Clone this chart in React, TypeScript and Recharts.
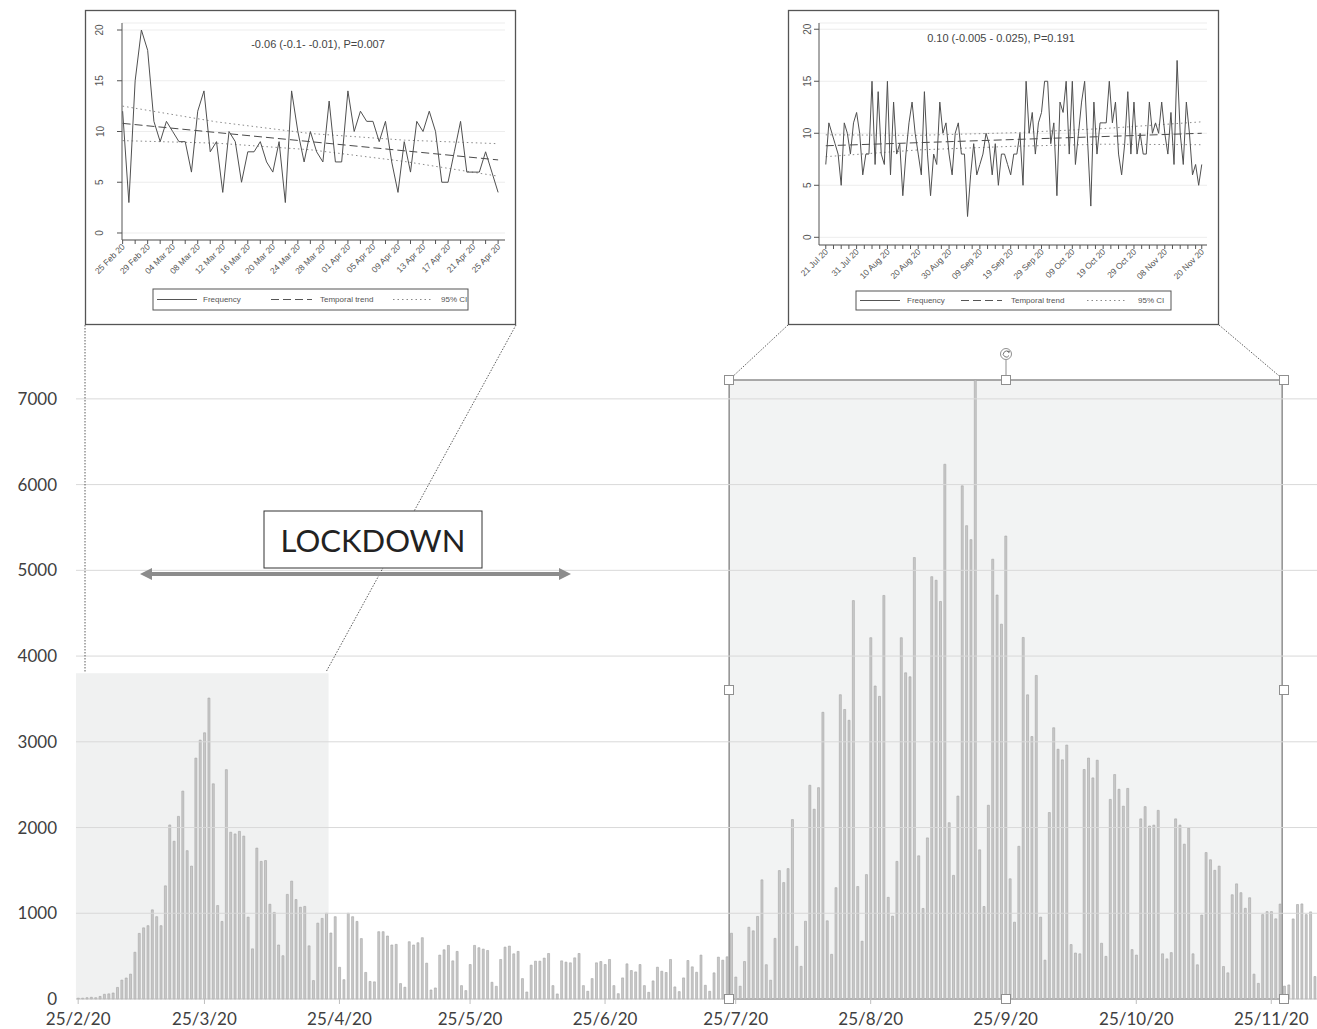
import React from 'react';
import { BarChart, Bar, XAxis, YAxis, CartesianGrid, ReferenceArea, ReferenceLine, LineChart, Line } from 'recharts';

// daily cases from 25/2/20, one value per day
const dailyCases: number[] = [
  10, 10, 15, 20, 15, 30, 55, 60, 70, 135,
  220, 245, 290, 545, 765, 830, 855, 1040, 960, 855,
  1320, 2030, 1840, 2130, 2425, 1730, 1550, 2810, 3020, 3105,
  3510, 2510, 1090, 905, 2675, 1945, 1925, 1955, 1900, 955,
  585, 1760, 1605, 1615, 1105, 1010, 630, 505, 1220, 1375,
  1160, 1070, 1080, 620, 215, 885, 940, 1000, 770, 960,
  370, 225, 1000, 960, 905, 705, 310, 205, 200, 785,
  785, 735, 630, 637, 180, 137, 668, 630, 656, 715,
  418, 105, 129, 512, 574, 625, 445, 555, 156, 98,
  402, 625, 598, 582, 566, 195, 148, 461, 605, 617,
  527, 555, 238, 82, 395, 441, 441, 477, 531, 156,
  59, 445, 430, 422, 480, 531, 156, 90, 238, 422,
  437, 402, 461, 156, 62, 246, 410, 332, 316, 402,
  156, 78, 211, 371, 324, 309, 461, 141, 86, 246,
  449, 375, 312, 512, 160, 90, 305, 488, 453, 492,
  767, 256, 149, 437, 837, 795, 963, 1390, 400, 219,
  707, 1498, 1358, 1521, 2093, 614, 381, 907, 2493, 2214,
  2465, 3344, 912, 521, 1298, 3549, 3377, 3251, 4647, 1312,
  674, 1451, 4214, 3651, 3530, 4707, 1186, 967, 1605, 4214,
  3805, 3758, 5149, 1670, 1056, 1879, 4926, 4884, 4637, 6237,
  2056, 1442, 2367, 5986, 5521, 5358, 7220, 1740, 1079, 2260,
  5130, 4712, 4372, 5400, 1402, 896, 1781, 4217, 3548, 3061,
  3774, 955, 453, 2175, 3164, 2913, 2790, 2962, 635, 536,
  527, 2677, 2810, 2579, 2785, 650, 497, 2328, 2618, 2446,
  2249, 2456, 576, 512, 2101, 2244, 2018, 2028, 2200, 527,
  468, 541, 2101, 2028, 1806, 1993, 527, 399, 979, 1708,
  1624, 1501, 1550, 379, 305, 1216, 1343, 1240, 1058, 1181,
  290, 182, 984, 1019, 1019, 935, 1107, 150, 164, 934,
  1102, 1109, 984, 1016, 262,
];

const mainTicks = ['25/2/20', '25/3/20', '25/4/20', '25/5/20', '25/6/20', '25/7/20', '25/8/20', '25/9/20', '25/10/20', '25/11/20'];
const yTicks = [0, 1000, 2000, 3000, 4000, 5000, 6000, 7000];

// inset 1: 25 Feb - 25 Apr
const insetAFreq = [
  12, 3, 15, 20, 18,
  11, 9, 11, 10, 9, 9, 6, 12, 14, 8, 9, 4, 10, 9, 5, 8, 8, 9, 7, 6, 9, 3, 14, 10, 7, 10, 8, 7, 13, 7, 7,
  14, 10, 12, 11, 11, 9, 11, 7, 4, 9, 6, 11, 10, 12, 10, 5, 5, 8, 11, 6, 6, 6, 8, 6, 4,
];
const insetATrendDays = [0, 60];
const insetATrend = [10.8, 7.2];
const insetACiDays = [0, 15, 30, 45, 60];
const insetACiUpper = [12.5, 10.95, 9.8, 9.15, 8.8];
const insetACiLower = [9.1, 8.85, 8.2, 7.05, 5.6];
const insetALabels = ['25 Feb 20', '29 Feb 20', '04 Mar 20', '08 Mar 20', '12 Mar 20', '16 Mar 20', '20 Mar 20', '24 Mar 20',
  '28 Mar 20', '01 Apr 20', '05 Apr 20', '09 Apr 20', '13 Apr 20', '17 Apr 20', '21 Apr 20', '25 Apr 20'];

// inset 2: 21 Jul - 20 Nov
const insetBFreq = [
  7, 11, 10, 9, 8, 5, 11, 10, 8, 11,
  12, 10, 6, 8, 8, 15, 7, 14, 8, 7,
  15, 6, 13, 8, 9, 4, 8, 11, 13, 10,
  8, 6, 14, 8, 4, 8, 7, 13, 10, 11,
  8, 6, 10, 11, 8, 8, 2, 6, 9, 6,
  7, 8, 10, 9, 6, 9, 5, 8, 8, 7,
  6, 8, 8, 10, 5, 15, 10, 12, 8, 11,
  12, 15, 15, 9, 11, 4, 13, 12, 15, 8,
  15, 7, 10, 13, 15, 9, 3, 13, 8, 11,
  11, 11, 15, 11, 13, 8, 6, 9, 14, 8,
  13, 8, 10, 8, 8, 13, 10, 11, 10, 13,
  10, 8, 12, 7, 17, 10, 7, 13, 10, 6,
  7, 5, 7,
];
const insetBTrendDays = [0, 122];
const insetBTrend = [8.8, 10.0];
const insetBCiDays = [0, 30, 61, 90, 122];
const insetBCiUpper = [9.85, 9.8, 10.05, 10.45, 11.1];
const insetBCiLower = [7.75, 8.4, 8.75, 8.95, 8.9];
const insetBLabelDays = [0, 10, 20, 30, 40, 50, 60, 70, 80, 90, 100, 110, 122];
const insetBLabels = ['21 Jul 20', '31 Jul 20', '10 Aug 20', '20 Aug 20', '30 Aug 20', '09 Sep 20', '19 Sep 20',
  '29 Sep 20', '09 Oct 20', '19 Oct 20', '29 Oct 20', '08 Nov 20', '20 Nov 20'];

const START = Date.UTC(2020, 1, 25);
const dateLabel = (i: number): string => {
  const d = new Date(START + i * 86400000);
  return `${d.getUTCDate()}/${d.getUTCMonth() + 1}/20`;
};

const mainData = dailyCases.map((v, i) => ({ date: dateLabel(i), cases: v }));

const buildInset = (freq: number[], tDays: number[], t: number[], cDays: number[], up: number[], lo: number[]) =>
  freq.map((f, d) => {
    const ti = tDays.indexOf(d);
    const ci = cDays.indexOf(d);
    return {
      d,
      f,
      t: ti >= 0 ? t[ti] : null,
      u: ci >= 0 ? up[ci] : null,
      l: ci >= 0 ? lo[ci] : null,
    };
  });

const insetAData = buildInset(insetAFreq, insetATrendDays, insetATrend, insetACiDays, insetACiUpper, insetACiLower);
const insetBData = buildInset(insetBFreq, insetBTrendDays, insetBTrend, insetBCiDays, insetBCiUpper, insetBCiLower);

const insetATicks = insetAFreq.map((_, d) => d).filter((d) => d % 2 === 0);
const insetBTicks = [...Array.from({ length: 49 }, (_, k) => k * 2.5), 122];

const MAIN_FONT = 'Lato, "Open Sans", sans-serif';
const INSET_FONT = '"Liberation Sans", Arial, sans-serif';
const INK = '#555';

const makeXTick = (labelFor: (v: number) => string) => (props: any) => {
  const { x, y, payload } = props;
  const s = labelFor(payload.value);
  if (!s) return <g />;
  return (
    <text x={x + 1} y={y} dy={3} textAnchor="end" transform={`rotate(-45 ${x} ${y})`}
      fontSize={8.5} fill={INK} fontFamily={INSET_FONT}>{s}</text>
  );
};

const makeYTick = (cx: number) => (props: any) => {
  const { y, payload } = props;
  return (
    <text x={cx} y={y} textAnchor="middle" dominantBaseline="central" transform={`rotate(-90 ${cx} ${y})`}
      fontSize={10} fill={INK} fontFamily={INSET_FONT}>{payload.value}</text>
  );
};

const Inset = (p: { data: any[]; domX: [number, number]; domY: [number, number]; ticks: number[]; yW: number;
  xH: number; right: number; yLabelX: number; labelFor: (v: number) => string }) => (
  <LineChart width={431} height={315} data={p.data} margin={{ top: 13, right: p.right, bottom: 0, left: 0 }}>
    <CartesianGrid vertical={false} stroke="#ededed" />
    <XAxis type="number" dataKey="d" domain={p.domX} allowDataOverflow ticks={p.ticks} interval={0}
      height={p.xH} tickSize={4} tickMargin={2} stroke={INK} tick={makeXTick(p.labelFor)} />
    <YAxis type="number" domain={p.domY} allowDataOverflow ticks={[0, 5, 10, 15, 20]} width={p.yW}
      tickSize={5} stroke={INK} tick={makeYTick(p.yLabelX)} />
    <Line dataKey="u" stroke="#8a8a8a" strokeWidth={1} strokeDasharray="1.5 3" dot={false} connectNulls isAnimationActive={false} />
    <Line dataKey="l" stroke="#8a8a8a" strokeWidth={1} strokeDasharray="1.5 3" dot={false} connectNulls isAnimationActive={false} />
    <Line dataKey="t" stroke="#4a4a4a" strokeWidth={1} strokeDasharray="8 4" dot={false} connectNulls isAnimationActive={false} />
    <Line dataKey="f" stroke="#505050" strokeWidth={1} dot={false} isAnimationActive={false} />
  </LineChart>
);

const LegendBox = ({ x, y, w, h, items }: { x: number; y: number; w: number; h: number; items: number[] }) => {
  const cy = y + h / 2;
  const [s1, t1, s2, t2, s3, t3] = items;
  return (
    <g fontFamily={INSET_FONT} fontSize={8} fill={INK}>
      <rect x={x} y={y} width={w} height={h} fill="#fff" stroke={INK} strokeWidth={1} />
      <line x1={s1} x2={s1 + 40} y1={cy} y2={cy} stroke={INK} strokeWidth={1} />
      <text x={t1} y={cy} dominantBaseline="central">Frequency</text>
      <line x1={s2} x2={s2 + 41} y1={cy} y2={cy} stroke={INK} strokeWidth={1} strokeDasharray="8 4" />
      <text x={t2} y={cy} dominantBaseline="central">Temporal trend</text>
      <line x1={s3} x2={s3 + 38} y1={cy} y2={cy} stroke="#8a8a8a" strokeWidth={1} strokeDasharray="1.5 3" />
      <text x={t3} y={cy} dominantBaseline="central">95% CI</text>
    </g>
  );
};

const Handle = ({ x, y }: { x: number; y: number }) => (
  <rect x={x - 4.5} y={y - 4.5} width={9} height={9} fill="#fff" stroke="#8f8f8f" strokeWidth={1} />
);

const App: React.FC = () => {
  const axisTick = { fontSize: 17, fill: '#404040', fontFamily: MAIN_FONT };
  return (
    <div style={{ position: 'absolute', left: 0, top: 0, width: 1317, height: 1029, background: '#fff', overflow: 'hidden' }}>
      <div style={{ position: 'absolute', left: 0, top: 0 }}>
        <BarChart width={1317} height={1029} data={mainData} margin={{ top: 380, right: 0, bottom: 0, left: 16 }} barCategoryGap="30%">
          {yTicks.slice(1).map((v) => (
            <ReferenceLine key={v} y={v} stroke="#d9d9d9" strokeWidth={1} />
          ))}
          <ReferenceArea x1={dateLabel(0)} x2={dateLabel(57)} y1={0} y2={3800} fill="#e4e6e6" fillOpacity={0.55} stroke="none" />
          <ReferenceArea x1={dateLabel(150)} x2={dateLabel(276)} y1={0} y2={7220} fill="#e6e8e8" fillOpacity={0.5}
            stroke="#8f8f8f" strokeWidth={1.5} />
          <XAxis dataKey="date" ticks={mainTicks} interval={0} height={30} tickSize={5} tickMargin={9}
            axisLine={{ stroke: '#bfbfbf' }} tickLine={{ stroke: '#bfbfbf' }} tick={axisTick} />
          <YAxis domain={[0, 7220]} ticks={yTicks} interval={0} width={60} axisLine={false} tickLine={false}
            tickMargin={13} tick={axisTick} />
          <Bar dataKey="cases" fill="#c9c9c9" stroke="#a4a4a4" strokeWidth={0.6} isAnimationActive={false} />
        </BarChart>
      </div>

      <svg width={1317} height={1029} style={{ position: 'absolute', left: 0, top: 0, pointerEvents: 'none' }}>
        <g stroke="#333" strokeWidth={0.8} strokeDasharray="1.5 1.5" fill="none">
          <line x1={85} y1={325} x2={85} y2={672} />
          <line x1={516} y1={325} x2={326} y2={672} />
          <line x1={788} y1={325} x2={729} y2={380} />
          <line x1={1219} y1={325} x2={1284} y2={380} />
        </g>
        <g stroke="#8c8c8c" fill="#8c8c8c">
          <line x1={150} y1={574} x2={561} y2={574} strokeWidth={4} />
          <polygon points="140,574 152,568 152,580" stroke="none" />
          <polygon points="571,574 559,568 559,580" stroke="none" />
        </g>
        <rect x={264} y={511} width={218} height={57} fill="#fff" stroke="#333" strokeWidth={1} />
        <text x={373} y={540} textAnchor="middle" dominantBaseline="central" fontSize={31} fill="#222" fontFamily={MAIN_FONT}>LOCKDOWN</text>
        <g>
          {[[729, 380], [1006, 380], [1284, 380], [729, 690], [1284, 690], [729, 999], [1006, 999], [1284, 999]].map(([x, y]) => (
            <Handle key={`${x}-${y}`} x={x} y={y} />
          ))}
          <line x1={1006} y1={360} x2={1006} y2={375} stroke="#8f8f8f" strokeWidth={1} />
          <circle cx={1006} cy={354} r={5.5} fill="#fff" stroke="#8f8f8f" strokeWidth={1} />
          <path d="M 1008.5 352 A 3 3 0 1 0 1009 355.5" fill="none" stroke="#777" strokeWidth={1} />
          <polygon points="1007,350.5 1010,351 1009,353.5" fill="#777" />
        </g>
      </svg>

      <div style={{ position: 'absolute', left: 85, top: 10, width: 431, height: 315, background: '#fff' }}>
        <Inset data={insetAData} domX={[-0.1, 61.1]} domY={[-0.69, 20.69]} ticks={insetATicks} yW={37} xH={85}
          right={11} yLabelX={15} labelFor={(v) => (v % 4 === 0 ? insetALabels[v / 4] : '')} />
      </div>
      <div style={{ position: 'absolute', left: 788, top: 10, width: 431, height: 315, background: '#fff' }}>
        <Inset data={insetBData} domX={[-2.2, 123.7]} domY={[-0.74, 20.6]} ticks={insetBTicks} yW={31} xH={80}
          right={12} yLabelX={20} labelFor={(v) => {
            const k = insetBLabelDays.indexOf(v);
            return k >= 0 ? insetBLabels[k] : '';
          }} />
      </div>

      <svg width={1317} height={1029} style={{ position: 'absolute', left: 0, top: 0, pointerEvents: 'none' }}>
        <rect x={85.5} y={10.5} width={430} height={314} fill="none" stroke="#555" strokeWidth={1.3} />
        <rect x={788.5} y={10.5} width={430} height={314} fill="none" stroke="#555" strokeWidth={1.3} />
        <text x={318} y={44} textAnchor="middle" dominantBaseline="central" fontSize={11} fill="#444" fontFamily={INSET_FONT}>
          -0.06 (-0.1- -0.01), P=0.007
        </text>
        <text x={1001} y={38} textAnchor="middle" dominantBaseline="central" fontSize={11} fill="#444" fontFamily={INSET_FONT}>
          0.10 (-0.005 - 0.025), P=0.191
        </text>
        <LegendBox x={153} y={289} w={315} h={21} items={[157, 203, 271, 320, 393, 441]} />
        <LegendBox x={856} y={291} w={315} h={19} items={[860, 907, 961, 1011, 1087, 1138]} />
      </svg>
    </div>
  );
};

export default App;
